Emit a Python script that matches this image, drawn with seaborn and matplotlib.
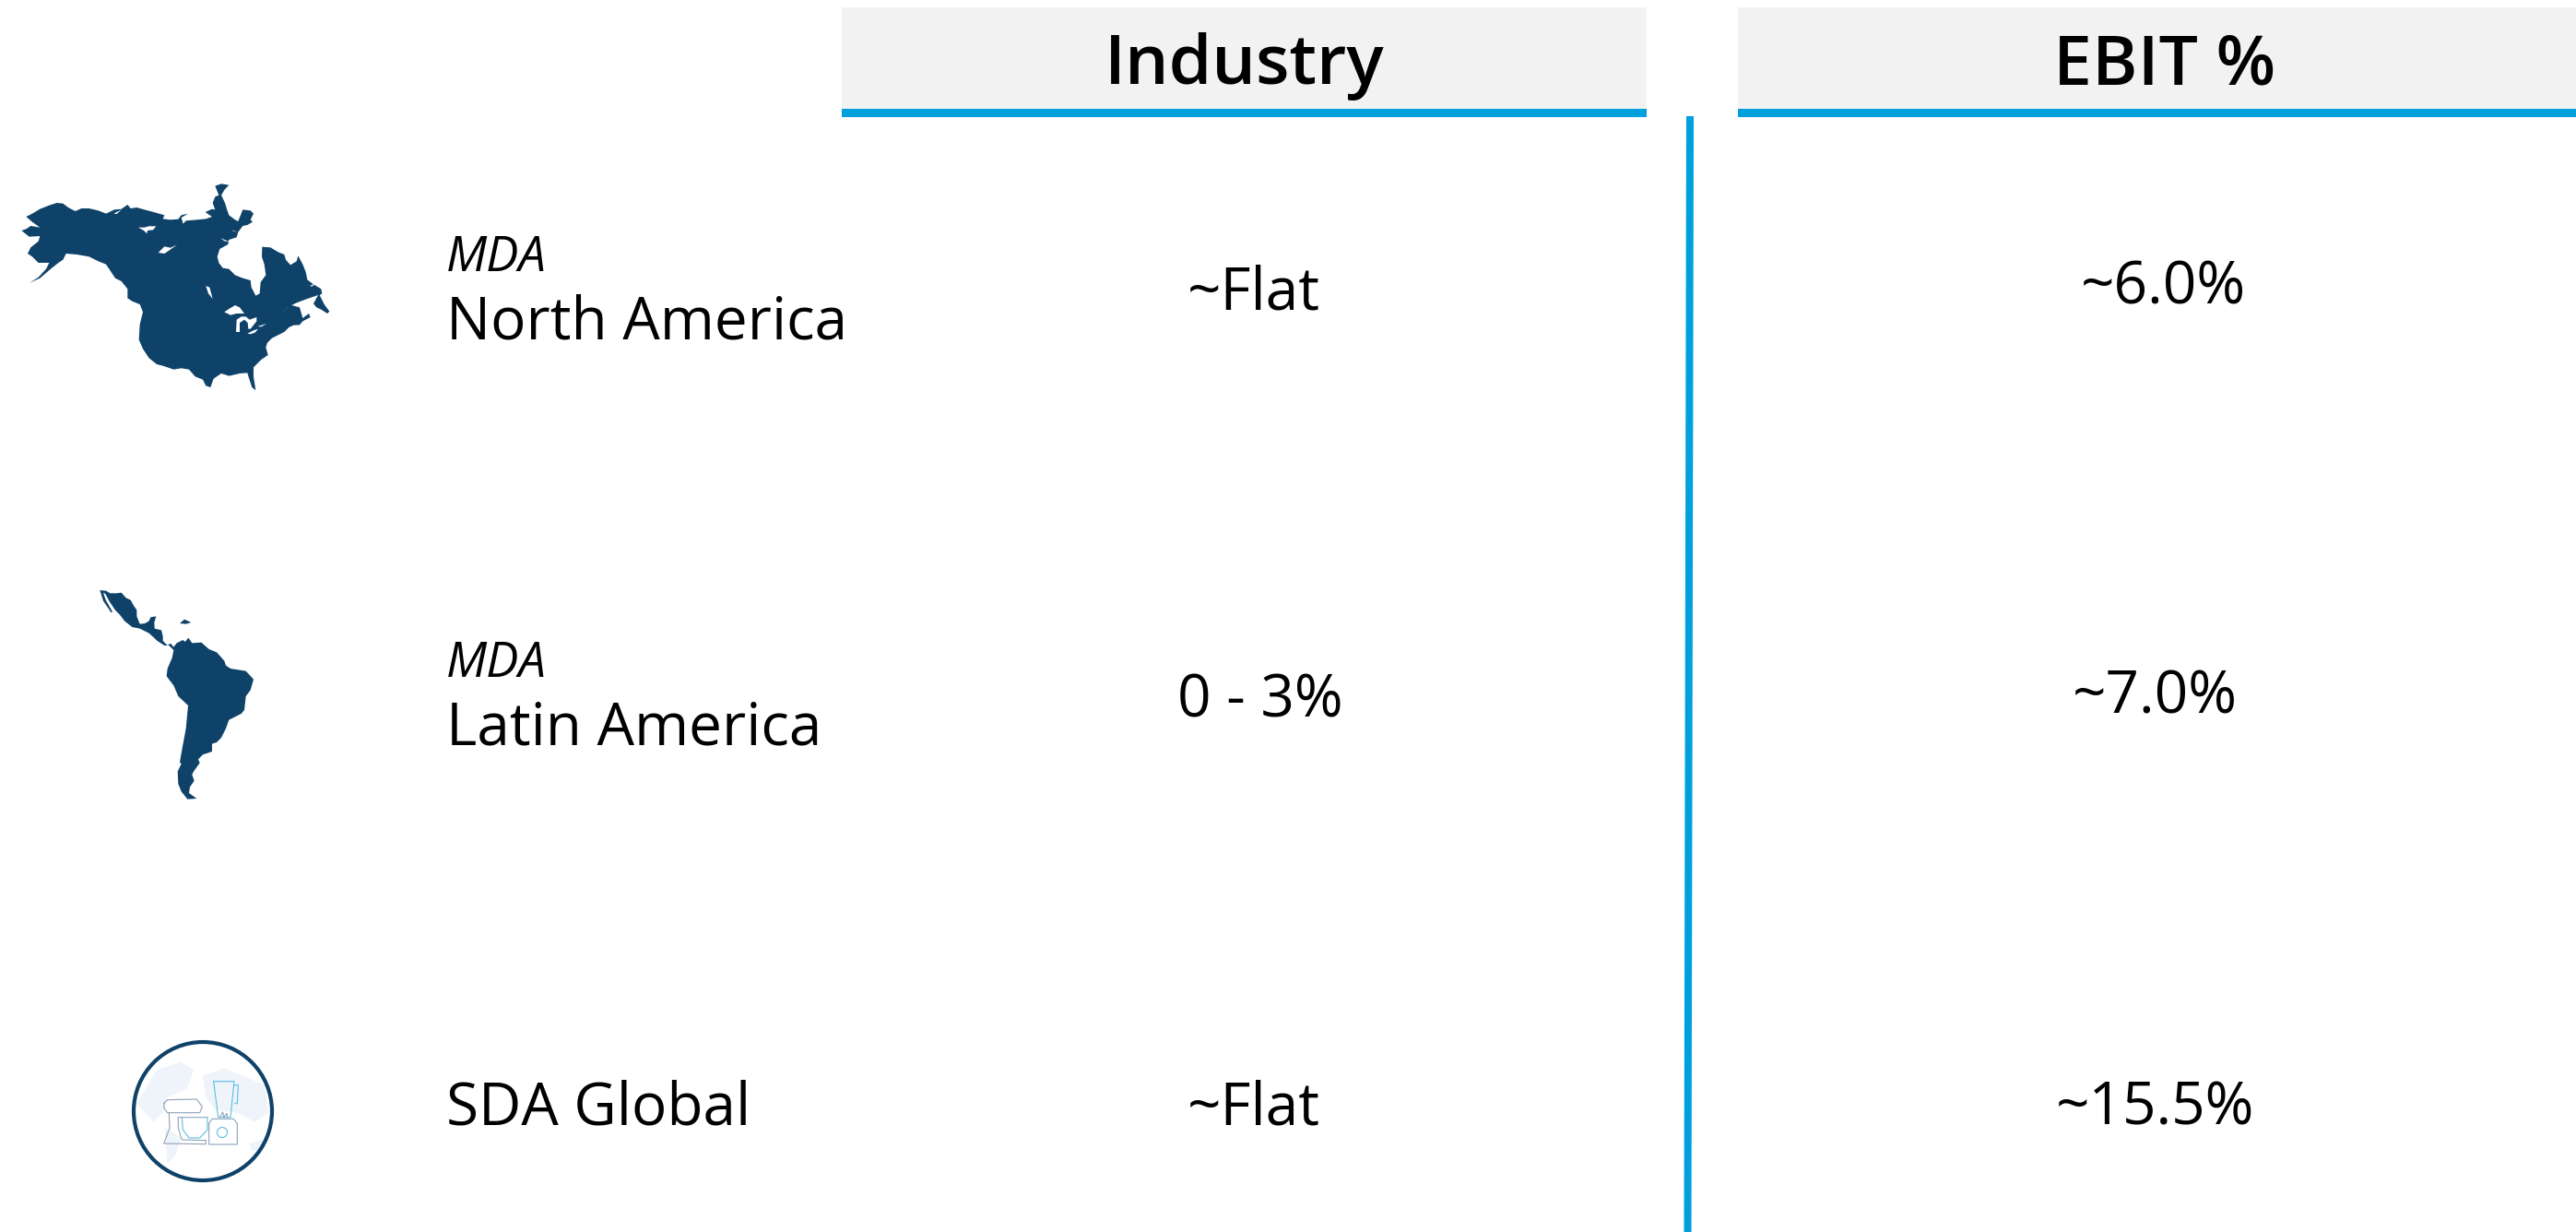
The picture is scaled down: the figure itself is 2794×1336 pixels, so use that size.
import matplotlib
matplotlib.use("Agg")
import matplotlib.pyplot as plt
import numpy as np
import pandas as pd
import seaborn as sns
from matplotlib.patches import Circle, Polygon, Rectangle

# Table content
segments = ["North America", "Latin America", "SDA Global"]
segment_prefix = ["MDA", "MDA", ""]
industry_values = ["~Flat", "0 - 3%", "~Flat"]
ebit_values = ["~6.0%", "~7.0%", "~15.5%"]
column_titles = ["Industry", "EBIT %"]

NAVY = "#0f4269"
RULE = "#00a0df"
HEADER = "#f2f2f2"

# Region outlines
north_america = [(70,240),(85,235),(100,225),(130,230),(105,212),(85,195),(105,185),(130,170),(160,158),(185,150),(205,152),(222,165),(245,177),(265,168),(290,168),(320,175),(345,185),(372,172),(395,170),(415,156),(425,168),(445,165),(470,172),(500,180),(535,190),(530,202),(555,205),(580,203),(590,190),(612,185),(590,198),(596,218),(605,208),(640,205),(670,202),(690,195),(668,180),(690,170),(700,172),(692,150),(700,130),(712,125),(700,95),(720,88),(745,92),(730,108),(720,125),(732,150),(738,170),(745,190),(765,205),(775,210),(790,172),(815,175),(825,185),(815,205),(822,212),(805,222),(790,225),(775,245),(770,262),(745,270),(742,285),(715,300),(707,325),(712,345),(725,362),(745,365),(765,385),(790,395),(815,402),(818,425),(832,452),(845,445),(848,408),(865,385),(860,350),(852,325),(853,293),(880,295),(905,310),(925,318),(930,335),(945,352),(965,340),(970,322),(985,350),(995,375),(1000,400),(1020,415),(1045,430),(1048,445),(1040,450),(1055,480),(1072,503),(1065,510),(1045,497),(1030,490),(1020,478),(1035,450),(1000,462),(965,475),(935,490),(915,508),(945,482),(975,490),(985,525),(1005,510),(1010,522),(985,535),(975,547),(955,548),(940,555),(925,570),(905,580),(885,590),(870,605),(865,620),(872,645),(850,660),(825,685),(825,715),(832,760),(820,750),(810,720),(805,703),(780,705),(745,713),(720,705),(695,722),(685,750),(670,745),(660,725),(635,715),(615,692),(590,688),(565,692),(530,680),(510,675),(485,655),(465,625),(452,595),(455,545),(465,505),(455,480),(430,470),(415,460),(415,430),(395,405),(375,395),(345,350),(320,340),(290,325),(250,318),(215,315),(205,335),(190,345),(165,365),(130,395),(97,410),(125,392),(150,365),(160,345),(125,345),(105,325),(90,315),(100,295),(125,275),(130,258),(95,260)]
north_america_lakes = [
    [(450,230),(470,230),(485,226),(508,226),(498,238),(480,240),(478,250),(468,240)],
    [(515,312),(535,292),(555,296),(576,286),(550,305),(535,315)],
    [(670,420),(682,425),(692,462),(678,445)],
    [(730,505),(745,495),(765,483),(780,490),(795,510),(770,510),(750,515)],
    [(768,570),(770,530),(785,520),(800,520),(812,530),(835,522),(835,535),(815,560),(808,560),(806,540),(795,530),(780,540),(780,570)],
    [(805,575),(825,565),(840,560),(830,572),(815,577)],
    [(838,552),(868,543),(850,553)],
    [(370,185),(395,172),(380,186)],
    [(752,238),(775,245),(760,242)],
    [(718,265),(750,278),(730,274)],
    [(1008,420),(1030,410),(1015,422)],
]
latin_america = [(105,62),(118,70),(140,70),(155,68),(170,85),(185,92),(195,110),(205,125),(205,145),(215,170),(232,168),(245,160),(250,148),(268,145),(262,165),(263,185),(285,190),(290,210),(290,225),(305,240),(315,233),(325,245),(335,232),(355,222),(362,228),(373,215),(385,232),(415,230),(440,252),(465,262),(490,290),(495,305),(510,315),(560,323),(585,350),(575,385),(560,405),(555,450),(545,462),(505,482),(495,510),(480,540),(465,555),(450,560),(450,585),(420,595),(405,610),(410,622),(390,650),(385,660),(392,680),(378,700),(375,720),(400,738),(370,740),(350,715),(340,690),(338,650),(350,625),(345,620),(352,580),(365,510),(372,435),(340,405),(325,370),(302,340),(305,315),(320,280),(325,255),(310,240),(295,240),(272,225),(245,200),(215,185),(190,180),(165,160),(150,140),(135,125),(115,95),(103,72),(96,68),(104,92),(126,130),(122,133),(96,95),(85,60)]
hispaniola = [(345,168),(360,155),(382,165),(365,170)]

sns.set_theme(style="white")
plt.rcParams["font.family"] = ["Open Sans", "DejaVu Sans"]

fig, ax = plt.subplots(figsize=(27.94, 13.36), dpi=100)
fig.subplots_adjust(0, 0, 1, 1)


def outline(points, x0, y0, scale=1 / 3):
    return [(x0 + x * scale, y0 + y * scale) for x, y in points]


# Column headers with their rules
for left, right, title, cx in [(913, 1786, column_titles[0], 1350), (1885, 2794, column_titles[1], 2348)]:
    ax.add_patch(Rectangle((left, 8), right - left, 110, fc=HEADER, ec="none"))
    ax.add_patch(Rectangle((left, 118), right - left, 9, fc=RULE, ec="none"))
    ax.text(cx, 72, title, ha="center", va="center", fontsize=54, weight="semibold", color="black")

# Divider between the two columns
divider = pd.DataFrame({"x": [1833, 1830.5], "y": [126, 1336]})
sns.lineplot(data=divider, x="x", y="y", ax=ax, color=RULE, linewidth=5.8, sort=False,
             estimator=None, legend=False, solid_capstyle="butt")
ax.set_xlim(0, 2794)
ax.set_ylim(1336, 0)
ax.axis("off")

# Row text
row_y = [350, 790, 1202]
industry_x = [1360, 1367, 1360]
ebit_x = [2346, 2337, 2337]
industry_y = [319, 760, 1202]
ebit_y = [313, 757, 1202]
for i, name in enumerate(segments):
    if segment_prefix[i]:
        ax.text(484, row_y[i] - 70, segment_prefix[i], fontsize=38, style="italic", color="black", va="center")
    ax.text(484, row_y[i], name, fontsize=46, color="black", va="center")
    ax.text(industry_x[i], industry_y[i], industry_values[i], fontsize=46, color="black", ha="center", va="center")
    ax.text(ebit_x[i], ebit_y[i], ebit_values[i], fontsize=46, color="black", ha="center", va="center")

# Region silhouettes
ax.add_patch(Polygon(outline(north_america, 0, 170), fc=NAVY, ec="none"))
for lake in north_america_lakes:
    ax.add_patch(Polygon(outline(lake, 0, 170), fc="white", ec="none"))
ax.add_patch(Polygon(outline(latin_america, 80, 620), fc=NAVY, ec="none"))
ax.add_patch(Polygon(outline(hispaniola, 80, 620), fc=NAVY, ec="none"))

# Appliance badge
ox, oy = 110, 1110
pale_world = [
    [(115,260),(180,150),(260,125),(300,150),(280,210),(215,240),(200,290),(170,320)],
    [(205,340),(260,370),(240,430),(215,455)],
    [(330,170),(400,145),(530,200),(545,290),(500,320),(440,290),(370,280),(340,240)],
    [(480,390),(530,375),(525,410),(490,415)],
]
for patch in pale_world:
    ax.add_patch(Polygon(outline(patch, ox, oy), fc="#eef4fa", ec="none"))
ax.add_patch(Circle((220, 1205), 75, fc="none", ec=NAVY, lw=3))
line_blue = "#5cbde4"
line_grey = "#8fa3b8"
strokes = [
    ([(204,258),(215,248),(310,246),(328,270),(320,290),(215,290),(204,275),(204,258)], line_grey),
    ([(220,290),(222,340),(203,390),(340,392),(340,380),(262,378),(250,340),(250,305),(345,305)], line_grey),
    ([(262,305),(265,345),(285,372),(320,372),(345,345),(345,305)], line_blue),
    ([(365,188),(432,188),(420,305),(380,305),(365,188)], line_blue),
    ([(432,200),(445,200),(442,260),(434,260)], line_blue),
    ([(350,325),(360,310),(430,310),(442,325),(442,393),(350,393),(350,325)], line_grey),
    ([(385,305),(395,288),(398,305),(408,292),(410,305)], line_grey),
]
for pts, col in strokes:
    ax.plot(*zip(*outline(pts, ox, oy)), color=col, lw=0.8)
ax.add_patch(Circle((ox + 393 / 3, oy + 354 / 3), 5.5, fc="none", ec=line_blue, lw=0.8))

sns.despine(ax=ax, left=True, bottom=True)
fig.savefig("out.png", dpi=100, facecolor="white")
